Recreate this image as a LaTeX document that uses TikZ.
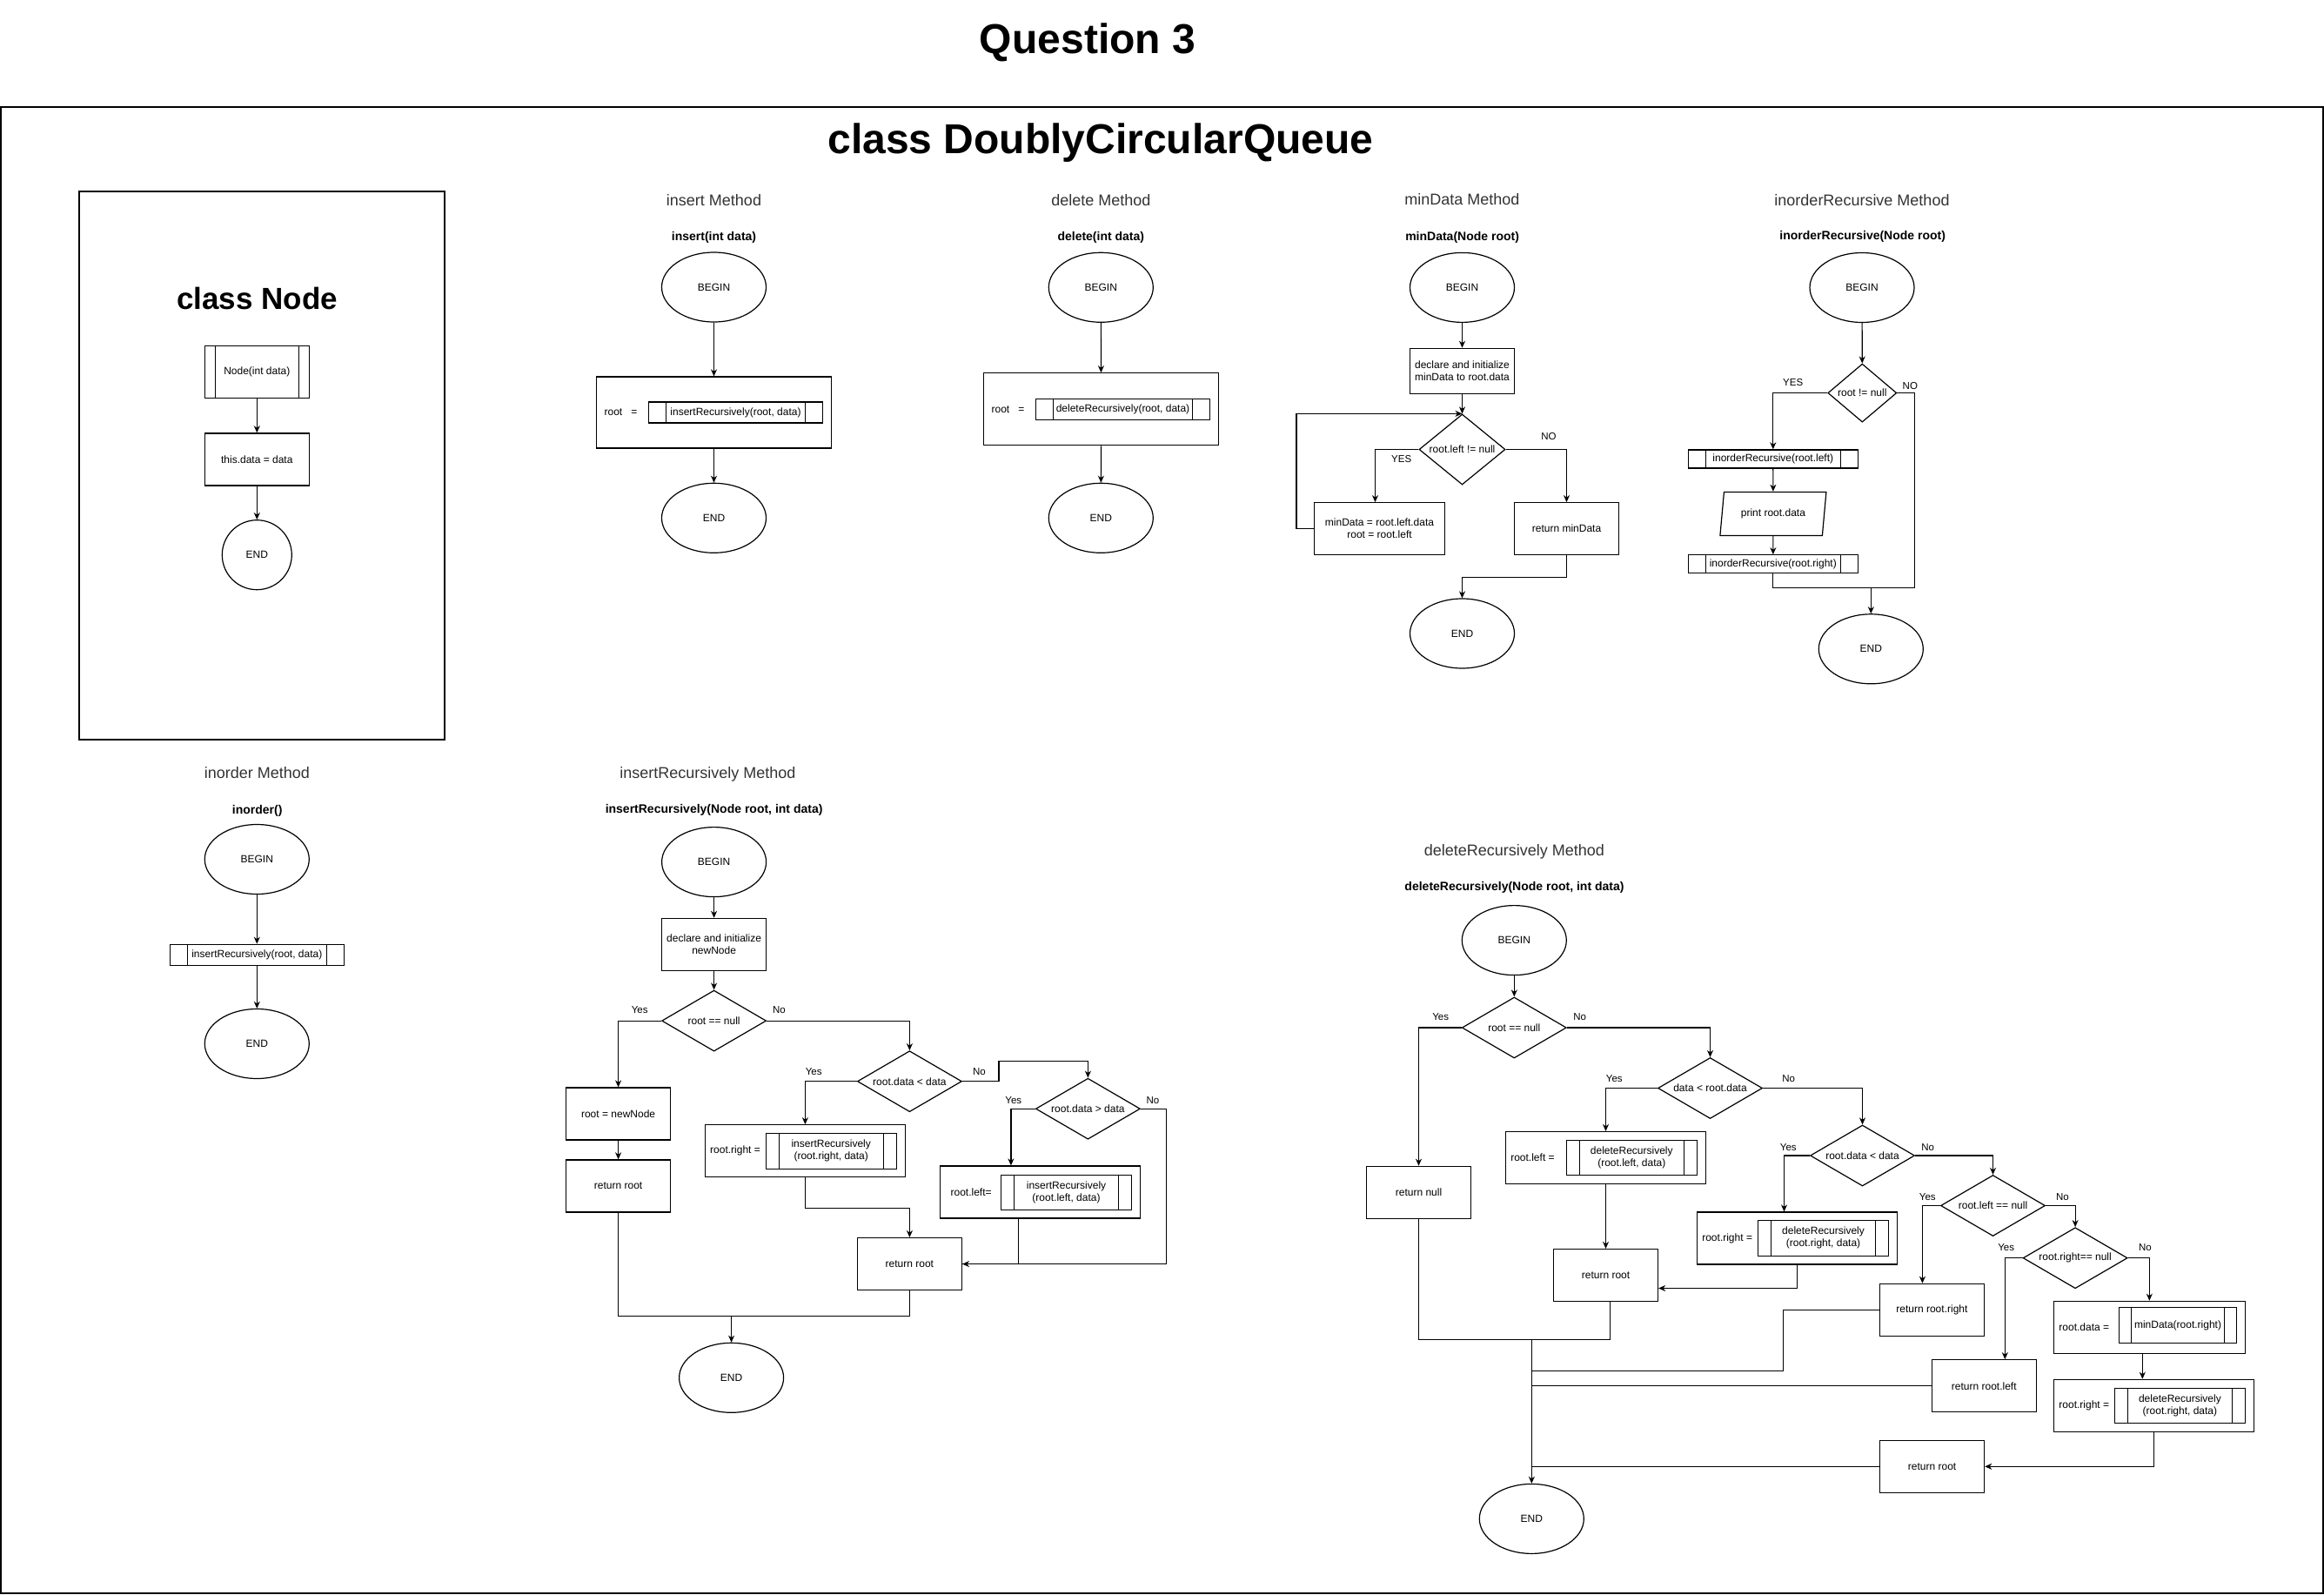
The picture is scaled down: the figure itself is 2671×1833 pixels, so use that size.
\documentclass[tikz,border=0pt]{standalone}
\usepackage{fontspec}
\setmainfont{Liberation Sans}
\usepackage{tikz}
\usetikzlibrary{arrows.meta, positioning, shapes.geometric, calc}
\tikzset{
    % Headings
    qtitle/.style={font=\bfseries\fontsize{48}{56}\selectfont, anchor=base, inner sep=0pt},
    ctitle/.style={font=\bfseries\fontsize{35}{42}\selectfont, anchor=base, inner sep=0pt},
    mtitle/.style={font=\fontsize{18}{21}\selectfont, text=black!80, text depth=0pt, inner sep=0pt},
    msig/.style={font=\bfseries\fontsize{14}{17}\selectfont, text depth=0pt, inner sep=0pt},
    % Flowchart shapes
    terminal/.style={ellipse, draw, minimum width=120pt, minimum height=80pt, inner sep=0pt,
                font=\fontsize{12}{14}\selectfont},
    procbox/.style={rectangle, draw, minimum width=120pt, minimum height=60pt, inner sep=0pt,
                align=center, font=\fontsize{12}{14}\selectfont},
    callbox/.style={rectangle, draw, inner sep=0pt, align=center, font=\fontsize{12}{14}\selectfont,
                path picture={
                    \draw ([xshift=#1]path picture bounding box.north west) -- ([xshift=#1]path picture bounding box.south west);
                    \draw ([xshift=-#1]path picture bounding box.north east) -- ([xshift=-#1]path picture bounding box.south east);
                }},
    callbox/.default=20pt,
    decision/.style={diamond, draw, aspect=1.7, minimum width=120pt, minimum height=70pt, inner sep=0pt,
                font=\fontsize{12}{14}\selectfont},
    iobox/.style={trapezium, trapezium left angle=68, trapezium right angle=112, trapezium stretches body,
                draw, minimum width=122pt, minimum height=50pt, inner sep=0pt, font=\fontsize{12}{14}\selectfont},
    boxlbl/.style={anchor=west, inner sep=0pt, font=\fontsize{12}{14}\selectfont},
    % Connectors
    carrow/.style={-{Stealth[length=8pt, width=7pt, inset=2.5pt]}},
    cline/.style={-},
    clbl/.style={font=\fontsize{11.5}{13}\selectfont, inner sep=0pt},
}
\begin{document}
\begin{tikzpicture}[x=1pt, y=-1pt, line width=1.2pt]
\useasboundingbox (0,0) rectangle (2671,1833);
\draw (1,123) rectangle (2670,1831);
\draw (91,220) rectangle (511,850);

\node[qtitle] (q_title) at (1250,61.5) {Question 3};
\node[qtitle] (c_title) at (1265,176.5) {class DoublyCircularQueue};
\node[ctitle] (n_title) at (295.5,355.5) {class Node};

\node[callbox=12pt, minimum width=120pt, minimum height=60pt] (n_ctor) at (295.3,427.7) {Node(int data)};
\node[procbox] (n_set) at (295.3,527.9) {this.data = data};
\node[terminal, minimum width=80pt] (n_end) at (295.3,637.7) {END};
\draw[carrow] (n_ctor) -- (n_set);
\draw[carrow] (n_set) -- (n_end);

\node[mtitle] (ins_title) at (820.5,230) {insert Method};
\node[msig] (ins_sig) at (820.5,271.7) {insert(int data)};
\node[terminal] (ins_begin) at (820.5,330) {BEGIN};
\node[procbox, minimum width=270pt, minimum height=82pt] (ins_box) at (820.5,474) {};
\node[boxlbl] (ins_lbl) at (694,474) {root\hspace{10pt}=};
\node[callbox, minimum width=200pt, minimum height=24pt] (ins_call) at (845.5,474) {insertRecursively(root, data)};
\node[terminal] (ins_end) at (820.5,595.3) {END};
\draw[carrow] (ins_begin) -- (ins_box);
\draw[carrow] (ins_box) -- (ins_end);

\node[mtitle] (del_title) at (1265.3,230) {delete Method};
\node[msig] (del_sig) at (1265.3,271.7) {delete(int data)};
\node[terminal] (del_begin) at (1265.3,330.3) {BEGIN};
\node[procbox, minimum width=270pt, minimum height=83pt] (del_box) at (1265.5,470.3) {};
\node[boxlbl] (del_lbl) at (1139,470.3) {root\hspace{10pt}=};
\node[callbox, minimum width=200pt, minimum height=24pt] (del_call) at (1290.5,470.3) {deleteRecursively(root, data)};
\node[terminal] (del_end) at (1265.3,595.3) {END};
\draw[carrow] (del_begin) -- (del_box);
\draw[carrow] (del_box) -- (del_end);

\node[mtitle] (md_title) at (1680.4,229.3) {minData Method};
\node[msig] (md_sig) at (1680.6,271.4) {minData(Node root)};
\node[terminal] (md_begin) at (1680.5,330.4) {BEGIN};
\node[procbox, minimum height=52.5pt] (md_init) at (1680.5,426.6) {declare and initialize\\minData to root.data};
\node[decision, aspect=1.22, minimum width=99pt, minimum height=81pt] (md_test) at (1680.5,516.5) {root.left != null};
\node[procbox, minimum width=150pt] (md_step) at (1585.5,607.7) {minData = root.left.data\\root = root.left};
\node[procbox] (md_ret) at (1800.5,607.7) {return minData};
\node[terminal] (md_end) at (1680.5,728) {END};
\draw[carrow] (md_begin) -- (md_init);
\draw[carrow] (md_init) -- (md_test);
\draw[carrow] (md_test.west) -| ([xshift=-5pt]md_step.north);
\draw[carrow] (md_test.east) -| (md_ret.north);
\draw[carrow] (md_step.west) -- ++(-20,0) |- (md_test.north);
\draw[carrow] (md_ret.south) -- ++(0,25) -| (md_end.north);
\node[clbl] (md_yes) at (1610.7,527.9) {YES};
\node[clbl] (md_no) at (1780,501.8) {NO};

\node[mtitle] (iord_title) at (2140,229.9) {inorderRecursive Method};
\node[msig] (iord_sig) at (2140.7,270.8) {inorderRecursive(Node root)};
\node[terminal] (iord_begin) at (2140,330.5) {BEGIN};
\node[decision, aspect=1.18, minimum width=79pt, minimum height=67pt] (iord_test) at (2140.3,451.6) {root != null};
\node[callbox, minimum width=195pt, minimum height=21pt] (iord_left) at (2037.8,527.4) {inorderRecursive(root.left)};
\node[iobox] (iord_print) at (2037.9,590.4) {print root.data};
\node[callbox, minimum width=195pt, minimum height=21pt] (iord_right) at (2037.8,648.3) {inorderRecursive(root.right)};
\node[terminal] (iord_end) at (2150.3,745.8) {END};
\coordinate (iord_join) at (2150.3,675.3);
\draw[carrow] (iord_begin) -- (iord_test);
\draw[carrow] (iord_test.west) -| (iord_left.north);
\draw[carrow] (iord_left) -- (iord_print);
\draw[carrow] (iord_print) -- (iord_right);
\draw[cline] (iord_test.east) -- ++(20,0) |- (iord_join);
\draw[cline] (iord_right.south) |- (iord_join);
\draw[carrow] (iord_join) -- (iord_end);
\node[clbl] (iord_yes) at (2060.7,439.6) {YES};
\node[clbl] (iord_no) at (2195.3,443.4) {NO};

\node[mtitle] (io_title) at (295.3,888.3) {inorder Method};
\node[msig] (io_sig) at (295.7,930.7) {inorder()};
\node[terminal] (io_begin) at (295.3,987.5) {BEGIN};
\node[callbox, minimum width=200pt, minimum height=24pt] (io_call) at (295.3,1097.3) {insertRecursively(root, data)};
\node[terminal] (io_end) at (295.3,1199.5) {END};
\draw[carrow] (io_begin) -- (io_call);
\draw[carrow] (io_call) -- (io_end);

\node[mtitle] (irec_title) at (813.4,887.6) {insertRecursively Method};
\node[msig] (irec_sig) at (820.6,929.3) {insertRecursively(Node root, int data)};
\node[terminal] (irec_begin) at (820.6,990.6) {BEGIN};
\node[procbox] (irec_init) at (820.6,1085.4) {declare and initialize\\newNode};
\node[decision] (irec_null) at (820.6,1173.1) {root == null};
\node[procbox] (irec_new) at (710.6,1280) {root = newNode};
\node[procbox] (irec_ret1) at (710.6,1362.9) {return root};
\node[decision] (irec_lt) at (1045.4,1242.7) {root.data < data};
\node[procbox, minimum width=230pt] (irec_rbox) at (925.4,1322.7) {};
\node[boxlbl] (irec_rlbl) at (815.6,1322.7) {root.right =};
\node[callbox=15pt, minimum width=150pt, minimum height=41pt] (irec_rcall) at (955.2,1322.7) {insertRecursively\\(root.right, data)};
\node[decision] (irec_gt) at (1250.4,1274.2) {root.data > data};
\node[procbox, minimum width=230pt] (irec_lbox) at (1195.4,1370) {};
\node[boxlbl] (irec_llbl) at (1092,1370) {root.left=};
\node[callbox=15pt, minimum width=150pt, minimum height=40pt] (irec_lcall) at (1225.5,1370.4) {insertRecursively\\(root.left, data)};
\node[procbox] (irec_ret2) at (1045.4,1452.6) {return root};
\node[terminal] (irec_end) at (840.6,1583.3) {END};
\coordinate (irec_join) at (840.6,1512.4);
\draw[carrow] (irec_begin) -- (irec_init);
\draw[carrow] (irec_init) -- (irec_null);
\draw[carrow] (irec_null.west) -| (irec_new.north);
\draw[carrow] (irec_null.east) -| (irec_lt.north);
\draw[carrow] (irec_new) -- (irec_ret1);
\draw[carrow] (irec_lt.west) -| (irec_rbox.north);
\draw[carrow] (irec_lt.east) -- ++(42,0) -- ++(0,-23) -| (irec_gt.north);
\draw[carrow] (irec_gt.west) -| ([xshift=-33.5pt]irec_lbox.north);
\draw[carrow] (irec_gt.east) -- ++(29.6,0) |- (irec_ret2.east);
\draw[cline] ([xshift=-25pt]irec_lbox.south) |- (irec_ret2.east);
\draw[carrow] (irec_rbox.south) -- ++(0,35) -| (irec_ret2.north);
\draw[cline] (irec_ret1.south) |- (irec_join);
\draw[cline] (irec_ret2.south) |- (irec_join);
\draw[carrow] (irec_join) -- (irec_end);
\node[clbl] (irec_yes1) at (735.2,1160.5) {Yes};
\node[clbl] (irec_no1) at (895.5,1160.5) {No};
\node[clbl] (irec_yes2) at (935.2,1231.8) {Yes};
\node[clbl] (irec_no2) at (1125.5,1231.8) {No};
\node[clbl] (irec_yes3) at (1164.8,1264.3) {Yes};
\node[clbl] (irec_no3) at (1325,1264.3) {No};

\node[mtitle] (drec_title) at (1740.3,977.1) {deleteRecursively Method};
\node[msig] (drec_sig) at (1740.5,1018.8) {deleteRecursively(Node root, int data)};
\node[terminal] (drec_begin) at (1740.3,1080.6) {BEGIN};
\node[decision] (drec_null) at (1740.3,1181) {root == null};
\node[procbox] (drec_rnull) at (1630.5,1370.3) {return null};
\node[decision] (drec_lt) at (1965.5,1250.5) {data < root.data};
\node[procbox, minimum width=230pt] (drec_lbox) at (1845.5,1330.5) {};
\node[boxlbl] (drec_llbl) at (1735.7,1330.5) {root.left =};
\node[callbox=15pt, minimum width=150pt, minimum height=40pt] (drec_lcall) at (1875.3,1330.5) {deleteRecursively\\(root.left, data)};
\node[procbox] (drec_ret1) at (1845.5,1465.5) {return root};
\node[decision] (drec_gt) at (2140.5,1328) {root.data < data};
\node[procbox, minimum width=230pt] (drec_rbox) at (2065.5,1423) {};
\node[boxlbl] (drec_rlbl) at (1955.7,1423) {root.right =};
\node[callbox=15pt, minimum width=150pt, minimum height=41pt] (drec_rcall) at (2095.5,1422.8) {deleteRecursively\\(root.right, data)};
\node[decision] (drec_lnull) at (2290.5,1385.5) {root.left == null};
\node[procbox] (drec_retr) at (2220.4,1505.3) {return root.right};
\node[decision] (drec_rnul2) at (2385.1,1445.7) {root.right== null};
\node[procbox] (drec_retl) at (2280.3,1592.7) {return root.left};
\node[procbox, minimum width=220pt] (drec_dbox) at (2470.3,1525.3) {};
\node[boxlbl] (drec_dlbl) at (2365.8,1525.3) {root.data =};
\node[callbox=14pt, minimum width=135pt, minimum height=41pt] (drec_dcall) at (2503,1523) {minData(root.right)};
\node[procbox, minimum width=230pt] (drec_rbox2) at (2475.3,1615.3) {};
\node[boxlbl] (drec_r2lbl) at (2365.8,1615.3) {root.right =};
\node[callbox=15pt, minimum width=150pt, minimum height=40pt] (drec_r2call) at (2505.4,1615.5) {deleteRecursively\\(root.right, data)};
\node[procbox] (drec_ret2) at (2220.6,1685.3) {return root};
\node[terminal] (drec_end) at (1760.3,1745.4) {END};
\coordinate (drec_j0) at (1760.3,1539.7);
\coordinate (drec_j1) at (1760.3,1575.3);
\coordinate (drec_j2) at (1760.3,1592.7);
\coordinate (drec_j3) at (1760.3,1685.3);
\draw[carrow] (drec_begin) -- (drec_null);
\draw[carrow] (drec_null.west) -| (drec_rnull.north);
\draw[carrow] (drec_null.east) -| (drec_lt.north);
\draw[carrow] (drec_lt.west) -| (drec_lbox.north);
\draw[carrow] (drec_lt.east) -| (drec_gt.north);
\draw[carrow] (drec_lbox) -- (drec_ret1);
\draw[carrow] (drec_gt.west) -| ([xshift=-15pt]drec_rbox.north);
\draw[carrow] (drec_gt.east) -| (drec_lnull.north);
\draw[carrow] (drec_rbox.south) |- ([yshift=-15pt]drec_ret1.east);
\draw[carrow] (drec_lnull.west) -| ([xshift=-11pt]drec_retr.north);
\draw[carrow] (drec_lnull.east) -| (drec_rnul2.north);
\draw[carrow] (drec_rnul2.west) -| ([xshift=24pt]drec_retl.north);
\draw[carrow] (drec_rnul2.east) -| (drec_dbox.north);
\draw[carrow] ([xshift=-8pt]drec_dbox.south) -- ([xshift=-13pt]drec_rbox2.north);
\draw[carrow] (drec_rbox2.south) |- (drec_ret2.east);
\draw[cline] (drec_rnull.south) |- (drec_j0) -| ([xshift=5pt]drec_ret1.south);
\draw[cline] (drec_retr.west) -- ++(-110,0) |- (drec_j1);
\draw[cline] (drec_retl.west) -- (drec_j2);
\draw[cline] (drec_ret2.west) -- (drec_j3);
\draw[carrow] (drec_j0) -- (drec_end);
\node[clbl] (drec_yes1) at (1655.7,1168.4) {Yes};
\node[clbl] (drec_no1) at (1815.7,1168.4) {No};
\node[clbl] (drec_yes2) at (1855.3,1239.4) {Yes};
\node[clbl] (drec_no2) at (2055.7,1240) {No};
\node[clbl] (drec_yes3) at (2055.3,1319) {Yes};
\node[clbl] (drec_no3) at (2215.7,1319) {No};
\node[clbl] (drec_yes4) at (2215.3,1375.7) {Yes};
\node[clbl] (drec_no4) at (2370.5,1375.7) {No};
\node[clbl] (drec_yes5) at (2305.7,1433.7) {Yes};
\node[clbl] (drec_no5) at (2465.4,1433.7) {No};
\end{tikzpicture}
\end{document}
